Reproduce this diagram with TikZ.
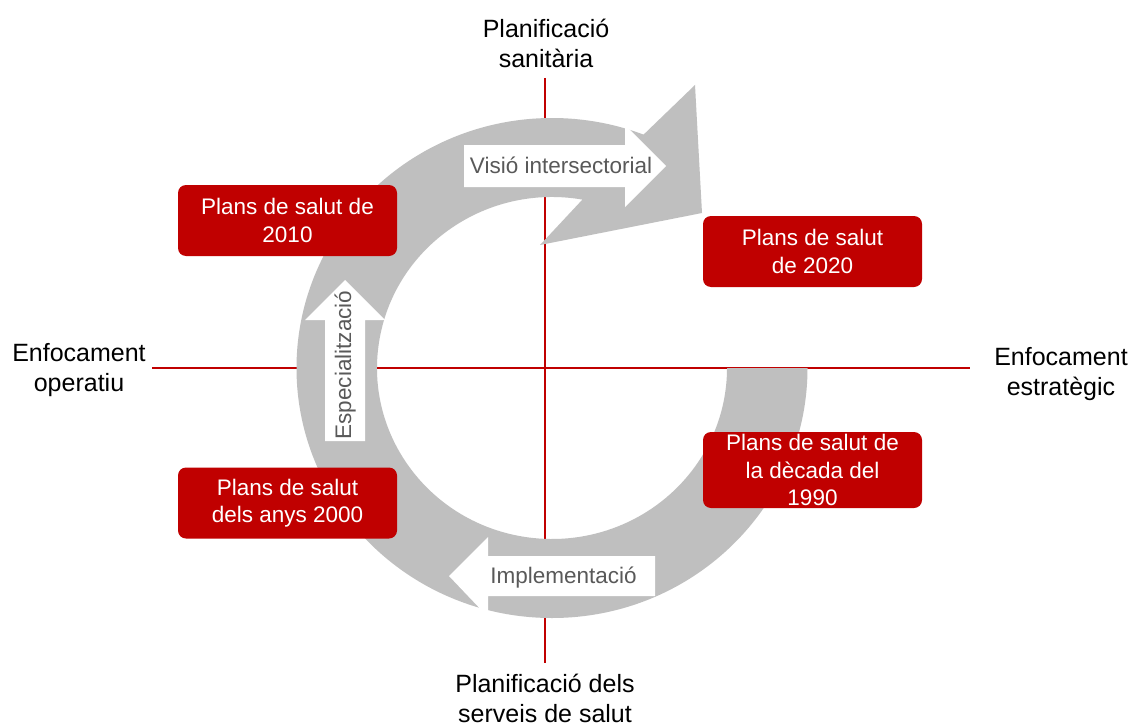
\documentclass[tikz,border=0pt]{standalone}
\usepackage{fontspec}
\setmainfont{Liberation Sans}
\definecolor{ringgray}{HTML}{BFBFBF}
\definecolor{darkred}{HTML}{C00000}
\definecolor{txtgray}{HTML}{595959}
\begin{document}
\begin{tikzpicture}[x=1pt,y=-1pt,
  redbox/.style={draw=none, fill=darkred, rounded corners=8pt, minimum width=219pt, minimum height=71pt, inner sep=0pt, text=white, align=center, font=\fontsize{22.5}{27.5}\selectfont},
  axislabel/.style={align=center, inner sep=0pt, font=\fontsize{25}{30}\selectfont, anchor=base},
  arrowlabel/.style={text=txtgray, inner sep=0pt, font=\fontsize{22.5}{27}\selectfont, anchor=base},
  axisline/.style={draw=darkred, line width=2.5pt},
  whitearrow/.style={fill=white, draw=none},
  ring/.style={fill=ringgray, draw=none}
]
\fill[white] (0,0) rectangle (1138,725);
\useasboundingbox (0,0) rectangle (1138,725);
\coordinate (vtop) at (545,78);
\coordinate (vbot) at (545,663);
\coordinate (hleft) at (152,368);
\coordinate (hright) at (970,368);
\draw[axisline] (vtop) -- (vbot);
\draw[axisline] (hleft) -- (hright);
% ring arrow
\path[ring] (807.5,368) arc[start angle=0, end angle=291, x radius=255.5, y radius=250]
  -- (695,85) -- (702,213) -- (540,245) -- (582.4,199.6)
  arc[start angle=280, end angle=0, x radius=175, y radius=171] -- cycle;
% white arrows
\path[whitearrow] (464,145) -- (625,145) -- (625,125) -- (666,166) -- (625,207) -- (625,187) -- (464,187) -- cycle;
\path[whitearrow] (655,556) -- (488,556) -- (488,537) -- (449,576) -- (488,617) -- (488,596) -- (655,596) -- cycle;
\path[whitearrow] (325,441) -- (325,320) -- (305,320) -- (345,280) -- (385,320) -- (365,320) -- (365,441) -- cycle;
\node[arrowlabel] (vis) at (561,173) {Visió intersectorial};
\node[arrowlabel] (imp) at (563.5,583) {Implementació};
\node[arrowlabel, rotate=90] (esp) at (351,365) {Especialització};
% boxes
\node[redbox] (b2010) at (287.5,220.5) {Plans de salut de\\2010};
\node[redbox] (b2020) at (812.5,251.5) {Plans de salut\\de 2020};
\node[redbox, minimum height=76pt] (b1990) at (812.5,470) {Plans de salut de\\la dècada del\\1990};
\node[redbox] (b2000) at (287.5,503) {Plans de salut\\dels anys 2000};
% axis labels (base = baseline of last line)
\node[axislabel] (ltop) at (546,67) {Planificació\\sanitària};
\node[axislabel] (lleft) at (79,391) {Enfocament\\operatiu};
\node[axislabel] (lright) at (1061,395) {Enfocament\\estratègic};
\node[axislabel] (lbot) at (545,722) {Planificació dels\\serveis de salut};
\end{tikzpicture}
\end{document}
